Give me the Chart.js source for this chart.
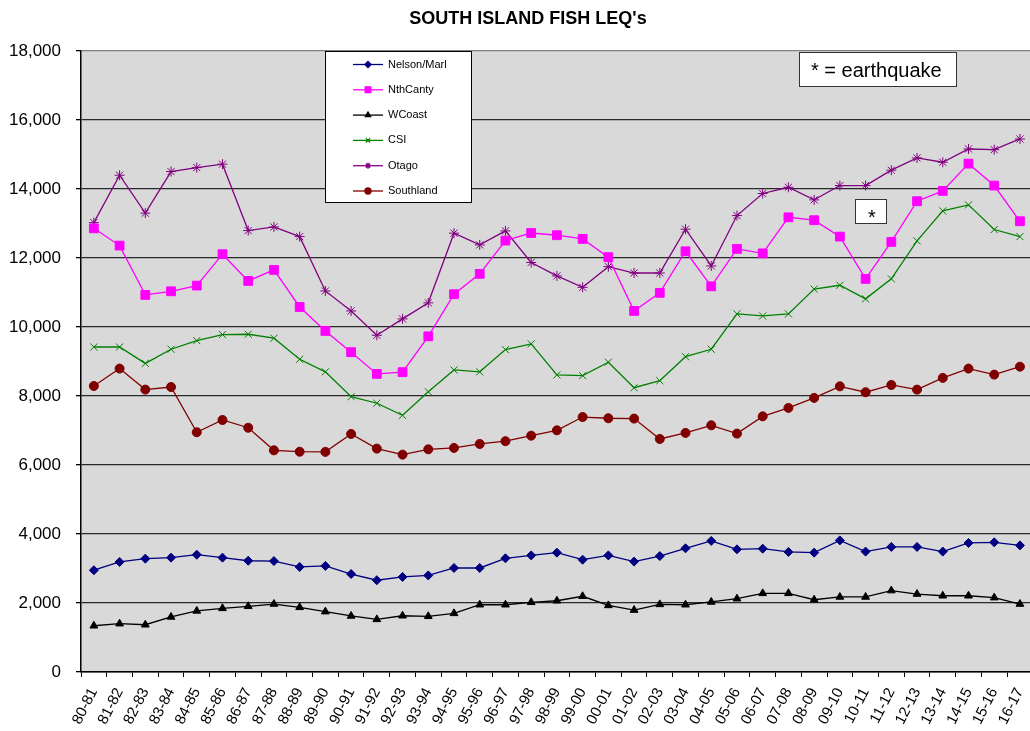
<!DOCTYPE html>
<html>
<head>
<meta charset="utf-8">
<title>South Island Fish LEQ's</title>
<script src="https://cdn.jsdelivr.net/npm/chart.js@4.4.1/dist/chart.umd.min.js"></script>
<style>
  html, body { margin: 0; padding: 0; background: #fff; overflow: hidden; }
  #wrap { width: 1040px; height: 731px; }
</style>
</head>
<body>
<div id="wrap"><canvas id="chart" width="1040" height="731"></canvas></div>
<script>
// ============================================================
// Data
// ============================================================
const chartTitle = "SOUTH ISLAND FISH LEQ's";

const seasons = [
  '80-81', '81-82', '82-83', '83-84', '84-85', '85-86', '86-87', '87-88', '88-89', '89-90',
  '90-91', '91-92', '92-93', '93-94', '94-95', '95-96', '96-97', '97-98', '98-99', '99-00',
  '00-01', '01-02', '02-03', '03-04', '04-05', '05-06', '06-07', '07-08', '08-09', '09-10',
  '10-11', '11-12', '12-13', '13-14', '14-15', '15-16', '16-17'
];

const nelsonMarl = [
  2950, 3190, 3285, 3315, 3400, 3315, 3225, 3215, 3045, 3075,
  2840, 2660, 2755, 2800, 3015, 3015, 3295, 3380, 3460, 3255,
  3380, 3200, 3360, 3585, 3800, 3555, 3575, 3480, 3460, 3815,
  3490, 3625, 3625, 3490, 3740, 3760, 3670
];
const nthCanty = [
  12860, 12360, 10930, 11035, 11200, 12110, 11335, 11655, 10580, 9885,
  9270, 8640, 8690, 9730, 10950, 11540, 12505, 12725, 12660, 12555,
  12025, 10465, 10990, 12195, 11180, 12265, 12135, 13180, 13095, 12620,
  11395, 12465, 13645, 13945, 14735, 14100, 13065
];
const wCoast = [
  1340, 1400, 1370, 1595, 1770, 1845, 1905, 1970, 1875, 1750,
  1625, 1525, 1630, 1615, 1700, 1950, 1950, 2020, 2065, 2195,
  1930, 1795, 1960, 1950, 2030, 2125, 2280, 2280, 2095, 2175,
  2175, 2360, 2260, 2210, 2210, 2155, 1970
];
const csi = [
  9420, 9420, 8945, 9355, 9605, 9780, 9790, 9675, 9065, 8700,
  7980, 7790, 7440, 8125, 8755, 8700, 9345, 9510, 8610, 8590,
  8980, 8240, 8445, 9140, 9355, 10380, 10320, 10380, 11100, 11210,
  10815, 11395, 12495, 13365, 13540, 12825, 12620
];
const otago = [
  13025, 14400, 13300, 14505, 14620, 14720, 12795, 12900, 12620, 11045,
  10465, 9760, 10235, 10700, 12720, 12380, 12785, 11870, 11480, 11150,
  11750, 11565, 11565, 12835, 11770, 13230, 13870, 14050, 13685, 14100,
  14100, 14545, 14900, 14775, 15160, 15140, 15450
];
const southland = [
  8290, 8795, 8185, 8260, 6950, 7305, 7080, 6425, 6385, 6380,
  6900, 6475, 6300, 6455, 6495, 6610, 6690, 6850, 7005, 7390,
  7355, 7345, 6755, 6930, 7150, 6910, 7410, 7655, 7945, 8280,
  8110, 8320, 8185, 8525, 8795, 8620, 8850
];

const yMin = 0;
const yMax = 18000;
const yStep = 2000;

const FONT = '"Liberation Sans", Arial, sans-serif';

// ============================================================
// Series styling
// ============================================================
function series(label, data, color, pointStyle, radius) {
  return {
    label,
    data,
    borderColor: color,
    backgroundColor: color,
    pointBackgroundColor: color,
    pointBorderColor: color,
    pointStyle,
    pointRadius: radius,
    pointBorderWidth: 1,
    borderWidth: 1.3,
    tension: 0,
    fill: false,
  };
}

const datasets = [
  series('Nelson/Marl', nelsonMarl, '#000080', 'rectRot', 4.5),
  series('NthCanty', nthCanty, '#FF00FF', 'rect', 6.2),
  series('WCoast', wCoast, '#000000', 'triangle', 4.5),
  series('CSI', csi, '#008000', 'crossRot', 5),
  series('Otago', otago, '#800080', 'star', 5),
  series('Southland', southland, '#800000', 'circle', 4.5),
];

// ============================================================
// Plugins: plot background, title, boxed legend, earthquake notes
// ============================================================
const plotBackground = {
  id: 'plotBackground',
  beforeDraw(chart) {
    const { ctx, chartArea: a } = chart;
    ctx.save();
    ctx.fillStyle = '#D9D9D9';
    ctx.fillRect(a.left, a.top, a.right - a.left, a.bottom - a.top);
    ctx.restore();
  },
  afterDraw(chart) {
    const ctx = chart.ctx;
    ctx.save();
    ctx.fillStyle = '#000';
    ctx.font = 'bold 18px ' + FONT;
    ctx.textAlign = 'center';
    ctx.textBaseline = 'middle';
    ctx.fillText(chartTitle, 528, 19);
    ctx.restore();
  },
};

const boxedLegend = {
  id: 'boxedLegend',
  afterDraw(chart) {
    const ctx = chart.ctx;
    const box = { x: 325.5, y: 51.5, w: 146, h: 151 };
    ctx.save();
    ctx.fillStyle = '#fff';
    ctx.fillRect(box.x, box.y, box.w, box.h);
    ctx.strokeStyle = '#000';
    ctx.lineWidth = 1;
    ctx.strokeRect(box.x, box.y, box.w, box.h);

    ctx.font = '11px ' + FONT;
    ctx.textBaseline = 'middle';
    ctx.textAlign = 'left';
    chart.data.datasets.forEach((ds, i) => {
      const y = 64.5 + i * 25.3;
      ctx.strokeStyle = ds.borderColor;
      ctx.lineWidth = 1.3;
      ctx.beginPath();
      ctx.moveTo(353, y);
      ctx.lineTo(383, y);
      ctx.stroke();
      ctx.fillStyle = ds.borderColor;
      Chart.helpers.drawPoint(ctx, {
        pointStyle: ds.pointStyle,
        radius: ds.pointStyle === 'rect' ? 4 : 3,
        borderWidth: 1,
        rotation: 0,
      }, 368, y);
      ctx.fillStyle = '#000';
      ctx.fillText(ds.label, 388, y);
    });
    ctx.restore();
  },
};

const quakeNotes = {
  id: 'quakeNotes',
  afterDraw(chart) {
    const ctx = chart.ctx;
    ctx.save();
    ctx.fillStyle = '#fff';
    ctx.strokeStyle = '#333';
    ctx.lineWidth = 1;
    ctx.fillRect(799.5, 52.5, 157, 34);
    ctx.strokeRect(799.5, 52.5, 157, 34);
    ctx.fillRect(855.5, 199.5, 31, 24);
    ctx.strokeRect(855.5, 199.5, 31, 24);

    ctx.fillStyle = '#000';
    ctx.textBaseline = 'middle';
    ctx.textAlign = 'left';
    ctx.font = '20px ' + FONT;
    ctx.fillText('* = earthquake', 811, 71);
    ctx.textAlign = 'center';
    ctx.fillText('*', 872, 218);
    ctx.restore();
  },
};

// ============================================================
// Chart
// ============================================================
const ctx = document.getElementById('chart').getContext('2d');
new Chart(ctx, {
  type: 'line',
  data: { labels: seasons, datasets },
  plugins: [plotBackground, boxedLegend, quakeNotes],
  options: {
    responsive: false,
    animation: false,
    layout: { padding: { left: 0, right: 1, top: 51, bottom: 0 } },
    plugins: {
      legend: { display: false },
      tooltip: { enabled: false },
      title: { display: false },
    },
    scales: {
      x: {
        offset: true,
        grid: {
          offset: true,
          drawOnChartArea: false,
          drawTicks: true,
          tickLength: 5,
          tickColor: '#000',
          lineWidth: 1,
        },
        border: { display: true, color: '#000', width: 1.5 },
        ticks: {
          autoSkip: false,
          minRotation: 63,
          maxRotation: 63,
          padding: 8,
          color: '#000',
          font: { family: FONT, size: 15 },
        },
        afterFit(scale) {
          scale.height = 59;
          scale.paddingLeft = 0;
          scale.paddingRight = 0;
        },
      },
      y: {
        min: yMin,
        max: yMax,
        ticks: {
          stepSize: yStep,
          padding: 15,
          color: '#000',
          font: { family: FONT, size: 17 },
          callback: val => val.toLocaleString('en-US'),
        },
        grid: {
          color: ctx => ctx.tick && ctx.tick.value === yMax ? '#808080' : '#2a2a2a',
          lineWidth: 1.3,
          tickLength: 5,
          tickColor: '#000',
        },
        border: { display: true, color: '#000', width: 1.5 },
        afterFit(scale) { scale.width = 81; },
      },
    },
  },
});
</script>
</body>
</html>
